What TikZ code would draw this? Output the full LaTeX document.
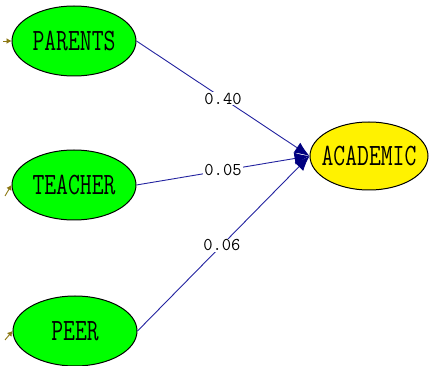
\documentclass[tikz,border=0pt]{standalone}
\usepackage{fontspec}
\usetikzlibrary{shapes.geometric,arrows.meta}
\definecolor{pathblue}{RGB}{35,35,160}
\definecolor{headnavy}{RGB}{0,0,128}
\definecolor{errolive}{RGB}{140,120,20}
\newcommand{\vtxt}[1]{\makebox[0pt]{\scalebox{1.0}[1.35]{#1}}}
\begin{document}
\begin{tikzpicture}[x=1pt,y=-1pt,
  latent/.style={ellipse,draw=black,line width=1pt,minimum width=124pt,minimum height=70pt,inner sep=0pt,font=\ttfamily\fontsize{23}{23}\selectfont},
  exo/.style={latent,fill=green},
  endo/.style={latent,fill=yellow,minimum width=118pt,minimum height=68pt},
  pathline/.style={draw=pathblue,line width=0.9pt,-{Latex[length=15pt,width=12pt,color=headnavy,fill=headnavy]}},
  coef/.style={fill=white,inner sep=1pt,font=\ttfamily\fontsize{18}{18}\selectfont},
  errarrow/.style={draw=errolive,line width=0.9pt,-{Latex[length=5pt,width=6pt]}}]
\useasboundingbox (0,0) rectangle (429,366);
\node[exo] (parents) at (74,41) {\vtxt{PARENTS}};
\node[exo] (teacher) at (74,185) {\vtxt{TEACHER}};
\node[exo] (peer) at (75,331) {\vtxt{PEER}};
\node[endo] (academic) at (369,156) {\vtxt{ACADEMIC}};
\draw[pathline] (parents.east) -- node[coef,pos=0.5] {0.40} (academic.west);
\draw[pathline] (teacher.east) -- node[coef,pos=0.5] {0.05} (academic.west);
\draw[pathline] (peer.east) -- node[coef,pos=0.49] {0.06} (academic.west);
\coordinate (e1) at (3,41);
\coordinate (e2) at (5,196);
\coordinate (e3) at (5,340);
\draw[errarrow] (e1) -- (parents.west);
\draw[errarrow] (e2) -- (teacher.west);
\draw[errarrow] (e3) -- (peer.west);
\end{tikzpicture}
\end{document}
